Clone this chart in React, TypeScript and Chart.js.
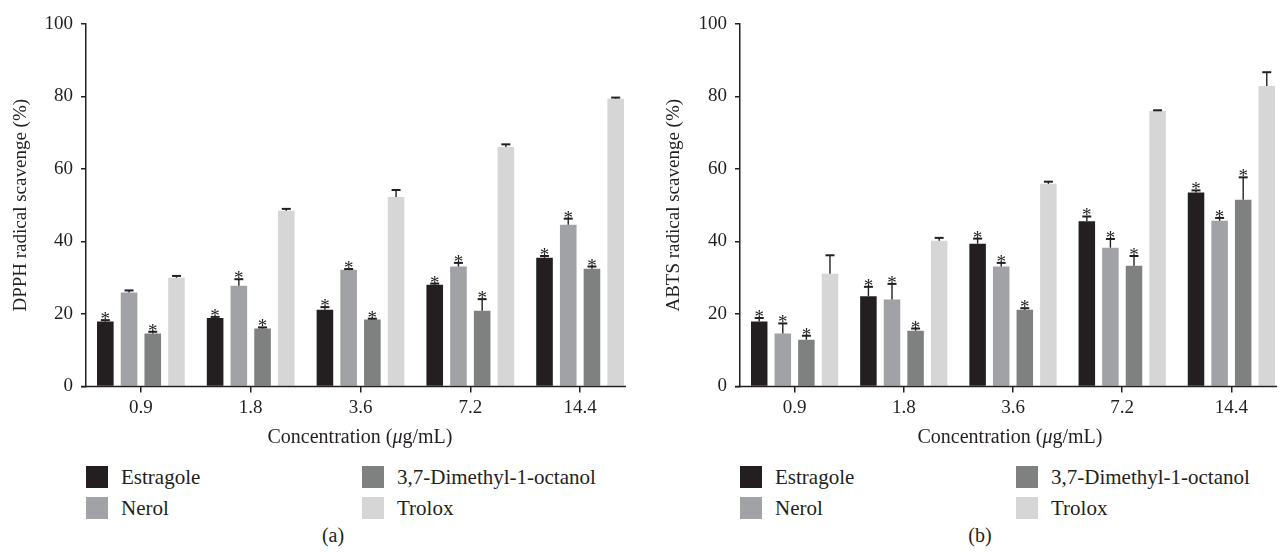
import React, { useEffect, useRef } from "react";
import { Chart, registerables } from "chart.js";

Chart.register(...registerables);

// ---------- data ----------
const concentrations = ["0.9", "1.8", "3.6", "7.2", "14.4"];
const seriesNames = ["Estragole", "Nerol", "3,7-Dimethyl-1-octanol", "Trolox"];
const yTicks = [0, 20, 40, 60, 80, 100];

// DPPH (a)
const dpphEstragole = [17.9, 18.9, 21.2, 28.1, 35.5];
const dpphNerol = [25.9, 27.8, 32.2, 33.1, 44.6];
const dpphDimethyl = [14.6, 16.0, 18.5, 20.9, 32.5];
const dpphTrolox = [30.0, 48.5, 52.3, 66.1, 79.4];
const dpphEstragoleErr = [0.4, 0.3, 0.7, 0.3, 0.5];
const dpphNerolErr = [0.6, 1.8, 0.2, 1.0, 1.7];
const dpphDimethylErr = [0.5, 0.3, 0.2, 3.2, 0.6];
const dpphTroloxErr = [0.5, 0.5, 1.9, 0.7, 0.3];
const dpphEstragoleSig = [true, true, true, true, true];
const dpphNerolSig = [false, true, true, true, true];
const dpphDimethylSig = [true, true, true, true, true];
const dpphTroloxSig = [false, false, false, false, false];

// ABTS (b)
const abtsEstragole = [17.9, 24.9, 39.4, 45.6, 53.5];
const abtsNerol = [14.6, 24.0, 33.1, 38.3, 45.7];
const abtsDimethyl = [12.9, 15.4, 21.2, 33.3, 51.5];
const abtsTrolox = [31.1, 40.2, 55.9, 76.0, 82.9];
const abtsEstragoleErr = [1.0, 2.6, 1.4, 1.3, 0.6];
const abtsNerolErr = [2.8, 4.3, 1.0, 2.4, 0.8];
const abtsDimethylErr = [1.1, 0.6, 0.4, 2.7, 6.2];
const abtsTroloxErr = [5.1, 0.8, 0.6, 0.2, 3.8];
const abtsEstragoleSig = [true, true, true, true, true];
const abtsNerolSig = [true, true, true, true, true];
const abtsDimethylSig = [true, true, true, true, true];
const abtsTroloxSig = [false, false, false, false, false];

// ---------- styles ----------
const COLORS = ["#231f20", "#a1a2a6", "#7f8180", "#d6d6d6"];
const INK = "#231f20";
const FONT = "'Liberation Serif', 'DejaVu Serif', serif";

const errorBarPlugin = {
  id: "errorBars",
  afterDatasetsDraw(chart: any) {
    const ctx = chart.ctx;
    const yScale = chart.scales.y;
    ctx.save();
    chart.data.datasets.forEach((ds: any, i: number) => {
      const meta = chart.getDatasetMeta(i);
      meta.data.forEach((bar: any, j: number) => {
        const v = ds.data[j];
        const e = ds.errors[j];
        const top = yScale.getPixelForValue(v + e);
        ctx.strokeStyle = INK;
        ctx.lineWidth = 1.4;
        ctx.beginPath();
        ctx.moveTo(bar.x, bar.y);
        ctx.lineTo(bar.x, top);
        ctx.stroke();
        ctx.lineWidth = 2;
        ctx.beginPath();
        ctx.moveTo(bar.x - 4.5, top);
        ctx.lineTo(bar.x + 4.5, top);
        ctx.stroke();
        if (ds.sig[j]) {
          ctx.fillStyle = INK;
          ctx.font = `19px ${FONT}`;
          ctx.textAlign = "center";
          ctx.textBaseline = "alphabetic";
          ctx.fillText("*", bar.x, top + 5);
        }
      });
    });
    const lastMeta = chart.getDatasetMeta(chart.data.datasets.length - 1);
    const last: any = lastMeta.data[lastMeta.data.length - 1];
    const xEnd = last.x + last.width / 2 + 2;
    const yb = chart.chartArea.bottom;
    ctx.strokeStyle = INK;
    ctx.lineWidth = 1.5;
    ctx.beginPath();
    ctx.moveTo(chart.chartArea.left - 5, yb);
    ctx.lineTo(xEnd, yb);
    ctx.stroke();
    ctx.restore();
  },
};

type PanelProps = {
  values: number[][];
  errors: number[][];
  sig: boolean[][];
  yTitle: string;
  axisLeft: number;
  titlePad: number;
  rightPad: number;
  width: number;
  height: number;
};

function BarPanel(p: PanelProps) {
  const ref = useRef<HTMLCanvasElement>(null);
  useEffect(() => {
    if (!ref.current) return;
    const chart = new Chart(ref.current, {
      type: "bar",
      data: {
        labels: concentrations,
        datasets: seriesNames.map((name, i) => ({
          label: name,
          data: p.values[i],
          errors: p.errors[i],
          sig: p.sig[i],
          backgroundColor: COLORS[i],
          borderWidth: 0,
          categoryPercentage: 0.864,
          barPercentage: 0.7,
        })) as any,
      },
      options: {
        responsive: false,
        animation: false,
        layout: { padding: { top: 24, right: p.rightPad, left: 0, bottom: 0 } },
        plugins: { legend: { display: false }, tooltip: { enabled: false } },
        scales: {
          x: {
            type: "category",
            offset: true,
            grid: {
              offset: false,
              drawOnChartArea: false,
              drawTicks: true,
              tickLength: 6,
              color: INK,
              lineWidth: 1.5,
            },
            border: { display: false },
            ticks: {
              color: INK,
              font: { family: FONT, size: 19 },
              padding: 4,
              maxRotation: 0,
              autoSkip: false,
            },
            afterFit: (s: any) => {
              s.height = p.height - 386.5;
            },
          },
          y: {
            min: 0,
            max: 100,
            afterBuildTicks: (s: any) => {
              s.ticks = yTicks.map((v) => ({ value: v }));
            },
            grid: {
              drawOnChartArea: false,
              drawTicks: true,
              tickLength: 5,
              color: INK,
              lineWidth: 1.5,
            },
            border: { display: true, color: INK, width: 1.5 },
            ticks: {
              color: INK,
              font: { family: FONT, size: 19 },
              padding: 8,
            },
            title: {
              display: true,
              text: p.yTitle,
              color: INK,
              font: { family: FONT, size: 19 },
              padding: { top: p.titlePad, bottom: 0 },
            },
            afterFit: (s: any) => {
              s.width = p.axisLeft;
            },
          },
        },
      } as any,
      plugins: [errorBarPlugin],
    });
    return () => chart.destroy();
  }, []);
  return (
    <canvas
      ref={ref}
      width={p.width}
      height={p.height}
      style={{ width: p.width, height: p.height, display: "block" }}
    />
  );
}

function Legend({ left, top }: { left: number; top: number }) {
  const order = [0, 2, 1, 3];
  return (
    <>
      {order.map((si, k) => {
        const col = k % 2;
        const row = Math.floor(k / 2);
        return (
          <div
            key={si}
            style={{
              position: "absolute",
              left: left + col * 276,
              top: top + row * 31,
              height: 22,
              display: "flex",
              alignItems: "center",
              whiteSpace: "nowrap",
            }}
          >
            <div style={{ width: 22, height: 22, background: COLORS[si] }} />
            <span style={{ marginLeft: 13, fontSize: 21, lineHeight: "22px" }}>
              {seriesNames[si]}
            </span>
          </div>
        );
      })}
    </>
  );
}

function XTitle({ center }: { center: number }) {
  return (
    <div
      style={{
        position: "absolute",
        left: center - 200,
        width: 400,
        top: 424,
        textAlign: "center",
        fontSize: 20,
        lineHeight: "24px",
      }}
    >
      Concentration (<i>μ</i>g/mL)
    </div>
  );
}

export default function App() {
  const H = 430;
  return (
    <div
      style={{
        position: "absolute",
        left: 0,
        top: 0,
        width: 1283,
        height: 552,
        overflow: "hidden",
        background: "#fff",
        fontFamily: FONT,
        color: INK,
      }}
    >
      <div style={{ position: "absolute", left: 0, top: 0 }}>
        <BarPanel
          values={[dpphEstragole, dpphNerol, dpphDimethyl, dpphTrolox]}
          errors={[dpphEstragoleErr, dpphNerolErr, dpphDimethylErr, dpphTroloxErr]}
          sig={[dpphEstragoleSig, dpphNerolSig, dpphDimethylSig, dpphTroloxSig]}
          yTitle="DPPH radical scavenge (%)"
          axisLeft={86}
          titlePad={10}
          rightPad={5}
          width={640}
          height={H}
        />
      </div>
      <div style={{ position: "absolute", left: 640, top: 0 }}>
        <BarPanel
          values={[abtsEstragole, abtsNerol, abtsDimethyl, abtsTrolox]}
          errors={[abtsEstragoleErr, abtsNerolErr, abtsDimethylErr, abtsTroloxErr]}
          sig={[abtsEstragoleSig, abtsNerolSig, abtsDimethylSig, abtsTroloxSig]}
          yTitle="ABTS radical scavenge (%)"
          axisLeft={100}
          titlePad={23}
          rightPad={14}
          width={660}
          height={H}
        />
      </div>
      <XTitle center={360} />
      <XTitle center={1010} />
      <Legend left={86} top={466} />
      <Legend left={740} top={466} />
      <div style={{ position: "absolute", left: 303, width: 60, top: 524, textAlign: "center", fontSize: 20 }}>
        (a)
      </div>
      <div style={{ position: "absolute", left: 950, width: 60, top: 524, textAlign: "center", fontSize: 20 }}>
        (b)
      </div>
    </div>
  );
}
